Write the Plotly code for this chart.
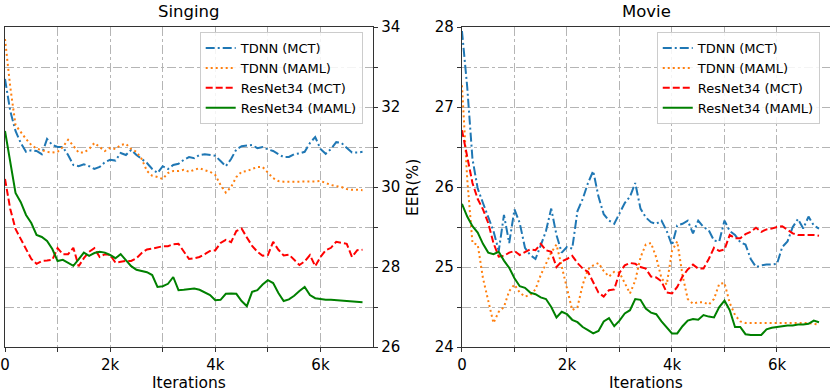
'''EER vs iterations, Singing and Movie'''

import plotly.graph_objs as go

# iterations shared by every curve
iterations = list(range(0, 6900, 100))

names = ['TDNN (MCT)', 'TDNN (MAML)', 'ResNet34 (MCT)', 'ResNet34 (MAML)']

# Singing, EER(%)
singing_tdnn_mct = [
    32.7, 31.9, 31.4, 31.1, 30.88, 30.92, 30.9, 30.82, 31.2, 31.05,
    31.0, 31.0, 30.8, 30.55, 30.52, 30.57, 30.52, 30.45, 30.5, 30.62,
    30.68, 30.66, 30.85, 30.8, 30.93, 30.8, 30.7, 30.6, 30.45, 30.35,
    30.52, 30.45, 30.55, 30.58, 30.68, 30.75, 30.72, 30.8, 30.82, 30.8,
    30.78, 30.65, 30.52, 30.7, 30.94, 31.02, 31.04, 31.05, 30.97, 31.0,
    30.94, 30.9, 30.82, 30.75, 30.75, 30.82, 30.84, 30.88, 31.1, 31.25,
    30.95, 30.83, 30.95, 31.12, 31.1, 30.98, 30.86, 30.86, 30.88]
singing_tdnn_maml = [
    33.7, 32.5, 31.55, 31.36, 31.2, 31.05, 30.96, 30.92, 30.88, 30.86,
    30.88, 31.0, 31.18, 31.03, 30.86, 30.86, 30.95, 31.1, 31.0, 30.9,
    30.98, 30.95, 31.05, 31.08, 30.95, 30.88, 30.7, 30.4, 30.28, 30.25,
    30.2, 30.35, 30.4, 30.4, 30.43, 30.38, 30.43, 30.47, 30.42, 30.38,
    30.3, 30.05, 29.86, 30.0, 30.25, 30.38, 30.4, 30.45, 30.5, 30.5,
    30.35, 30.22, 30.15, 30.13, 30.13, 30.13, 30.13, 30.13, 30.13, 30.14,
    30.15, 30.1, 30.05, 30.02, 30.0, 29.95, 29.93, 29.93, 29.92]
singing_resnet_mct = [
    30.2, 29.45, 28.95, 28.7, 28.43, 28.2, 28.08, 28.15, 28.16, 28.18,
    28.47, 28.32, 28.32, 28.48, 28.02, 28.22, 28.38, 28.47, 28.25, 28.32,
    28.3, 28.11, 28.13, 28.15, 28.15, 28.22, 28.35, 28.44, 28.46, 28.49,
    28.52, 28.52, 28.57, 28.58, 28.4, 28.2, 28.22, 28.25, 28.32, 28.4,
    28.42, 28.6, 28.68, 28.62, 28.9, 28.96, 28.74, 28.53, 28.38, 28.28,
    28.3, 28.63, 28.43, 28.29, 28.31, 28.19, 28.05, 28.14, 28.3, 28.02,
    28.25, 28.42, 28.48, 28.63, 28.6, 28.58, 28.25, 28.42, 28.43]
singing_resnet_maml = [
    31.4, 30.6, 29.85, 29.62, 29.3, 29.1, 28.8, 28.75, 28.65, 28.45,
    28.15, 28.18, 28.1, 28.03, 28.19, 28.36, 28.28, 28.35, 28.38, 28.36,
    28.3, 28.22, 28.32, 28.18, 28.02, 27.93, 27.9, 27.87, 27.8, 27.5,
    27.52, 27.58, 27.75, 27.42, 27.43, 27.45, 27.46, 27.43, 27.37, 27.3,
    27.17, 27.18, 27.33, 27.34, 27.33, 27.15, 27.02, 27.38, 27.42, 27.56,
    27.67, 27.6, 27.35, 27.15, 27.19, 27.28, 27.4, 27.5, 27.3, 27.22,
    27.2, 27.18, 27.18, 27.17, 27.16, 27.14, 27.13, 27.12, 27.12]

# Movie, EER(%)
movie_tdnn_mct = [
    27.95, 27.25, 26.35, 25.98, 25.8, 25.62, 25.45, 25.2, 25.65, 25.3,
    25.72, 25.55, 25.24, 25.15, 25.1, 25.27, 25.45, 25.73, 25.4, 25.18,
    25.25, 25.23, 25.7, 25.85, 26.05, 26.2, 25.88, 25.66, 25.58, 25.54,
    25.68, 25.8, 25.88, 26.05, 25.73, 25.62, 25.56, 25.54, 25.58, 25.45,
    25.27, 25.52, 25.54, 25.58, 25.42, 25.58, 25.5, 25.46, 25.33, 25.32,
    25.58, 25.45, 25.4, 25.31, 25.28, 25.1, 25.0, 25.02, 25.03, 25.03,
    25.04, 25.25, 25.32, 25.5, 25.6, 25.48, 25.63, 25.52, 25.48]
movie_tdnn_maml = [
    27.27, 26.1, 25.3, 25.28, 24.86, 24.56, 24.3, 24.44, 24.5, 24.7,
    24.78, 24.68, 24.63, 24.65, 24.72, 24.9, 25.05, 25.18, 25.28, 25.0,
    24.71, 24.46, 24.5, 24.78, 24.97, 25.02, 25.05, 24.95, 24.88, 24.94,
    24.93, 24.8, 24.67, 24.83, 25.12, 25.28, 25.3, 25.12, 24.86, 24.78,
    25.2, 25.32, 24.9, 24.6, 24.54, 24.56, 24.56, 24.53, 24.6, 24.79,
    24.8, 24.55, 24.4, 24.32, 24.3, 24.3, 24.3, 24.3, 24.3, 24.3,
    24.3, 24.3, 24.3, 24.3, 24.3, 24.3, 24.3, 24.29, 24.28]
movie_resnet_mct = [
    26.71, 26.38, 26.05, 25.85, 25.72, 25.55, 25.3, 25.13, 25.14, 25.18,
    25.2, 25.15, 25.19, 25.22, 25.21, 25.29, 25.21, 25.19, 25.0, 25.07,
    25.1, 25.14, 25.05, 24.98, 24.94, 24.8, 24.68, 24.63, 24.71, 24.72,
    24.93, 25.02, 25.05, 25.04, 25.0, 24.98, 24.88, 24.87, 24.82, 24.68,
    24.67, 24.75, 24.88, 24.97, 25.03, 24.98, 24.98, 25.1, 25.24, 25.2,
    25.22, 25.4, 25.36, 25.36, 25.41, 25.44, 25.49, 25.44, 25.47, 25.48,
    25.5, 25.51, 25.47, 25.42, 25.4, 25.4, 25.4, 25.4, 25.39]
movie_resnet_maml = [
    25.79, 25.63, 25.51, 25.43, 25.29, 25.18, 25.16, 25.19, 25.08, 24.99,
    24.86, 24.76, 24.74, 24.68, 24.66, 24.62, 24.6, 24.5, 24.37, 24.44,
    24.41, 24.34, 24.31, 24.25, 24.21, 24.17, 24.2, 24.32, 24.36, 24.26,
    24.33, 24.42, 24.46, 24.6, 24.59, 24.48, 24.43, 24.41, 24.32, 24.25,
    24.17, 24.17, 24.26, 24.33, 24.35, 24.34, 24.4, 24.38, 24.37, 24.5,
    24.58, 24.46, 24.25, 24.25, 24.16, 24.15, 24.15, 24.15, 24.22, 24.24,
    24.25, 24.26, 24.27, 24.27, 24.28, 24.28, 24.29, 24.33, 24.31]

x_ticks = [0, 1000, 2000, 3000, 4000, 5000, 6000]
x_labels = ['0', '', '2k', '', '4k', '', '6k']
singing_ticks = [26, 27, 28, 29, 30, 31, 32, 33, 34]
singing_labels = ['26', '', '28', '', '30', '', '32', '', '34']
movie_ticks = [24, 24.5, 25, 25.5, 26, 26.5, 27, 27.5, 28]
movie_labels = ['24', '', '25', '', '26', '', '27', '', '28']

FONT = 'DejaVu Sans'
# matplotlib-ish styles for the four methods
styles = [
    dict(color='#1f77b4', dash='9px,3px,2px,3px'),
    dict(color='#ff7f0e', dash='2px,3px'),
    dict(color='red', dash='7px,3px'),
    dict(color='green', dash='solid'),
]

data = []
panels = [
    ('x', 'y', 'legend', [singing_tdnn_mct, singing_tdnn_maml,
                          singing_resnet_mct, singing_resnet_maml]),
    ('x2', 'y2', 'legend2', [movie_tdnn_mct, movie_tdnn_maml,
                             movie_resnet_mct, movie_resnet_maml]),
]
for xa, ya, leg, series in panels:
    for name, ys, st in zip(names, series, styles):
        data.append(go.Scatter(
            x=iterations, y=ys, name=name, mode='lines',
            line=dict(color=st['color'], dash=st['dash'], width=2),
            xaxis=xa, yaxis=ya, legend=leg))


def xaxis(domain, anchor):
    return dict(domain=domain, anchor=anchor, range=[0, 7000],
                automargin=False,
                tickmode='array', tickvals=x_ticks, ticktext=x_labels,
                ticks='outside', ticklen=4, tickcolor='#333',
                showline=True, linecolor='#333', linewidth=1.2, mirror=True,
                showgrid=True, gridcolor='#b5b5b5', griddash='dashdot',
                zeroline=False, tickfont=dict(size=15, color='black'))


def yaxis(rng, vals, labels, side, anchor):
    return dict(domain=[0, 1], anchor=anchor, range=rng, side=side,
                automargin=False,
                tickmode='array', tickvals=vals, ticktext=labels,
                ticks='outside', ticklen=4, tickcolor='#333',
                showline=True, linecolor='#333', linewidth=1.2, mirror=True,
                showgrid=True, gridcolor='#b5b5b5', griddash='dashdot',
                zeroline=False, tickfont=dict(size=15, color='black'))


def legend(x):
    return dict(x=x, y=0.984, xanchor='left', yanchor='top',
                font=dict(size=13, color='black', family=FONT),
                bgcolor='rgba(255,255,255,0.85)', bordercolor='#cccccc',
                borderwidth=1, itemwidth=30, tracegroupgap=0)


def note(text, x, y, size, angle=0):
    return dict(text=text, x=x, y=y, xref='paper', yref='paper',
                xanchor='center', yanchor='middle', textangle=angle,
                showarrow=False, font=dict(size=size))


annotations = [
    note('Singing', 0.223, 1.047, 16.5),
    note('Movie', 0.777, 1.047, 16.5),
    note('Iterations', 0.223, -0.112, 15.5),
    note('Iterations', 0.777, -0.112, 15.5),
    note('EER(%)', 0.4945, 0.5, 15.5, -90),
]

layout = go.Layout(
    width=830, height=392,
    margin=dict(l=5, r=0, t=27, b=45),
    font=dict(family=FONT, color='black'),
    paper_bgcolor='white', plot_bgcolor='white',
    xaxis=xaxis([0, 0.4461], 'y'),
    yaxis=yaxis([26, 34], singing_ticks, singing_labels, 'right', 'x'),
    xaxis2=xaxis([0.5539, 0.9994], 'y2'),
    yaxis2=yaxis([24, 28], movie_ticks, movie_labels, 'left', 'x2'),
    legend=legend(0.236),
    legend2=legend(0.790),
    annotations=annotations,
)

fig = go.Figure(data=data, layout=layout)
# the page's default body margin would push the figure 8px off
fig.write_html('out.html', config={'displayModeBar': False},
               post_script="document.body.style.margin='0';"
                           "document.body.style.overflow='hidden';")
